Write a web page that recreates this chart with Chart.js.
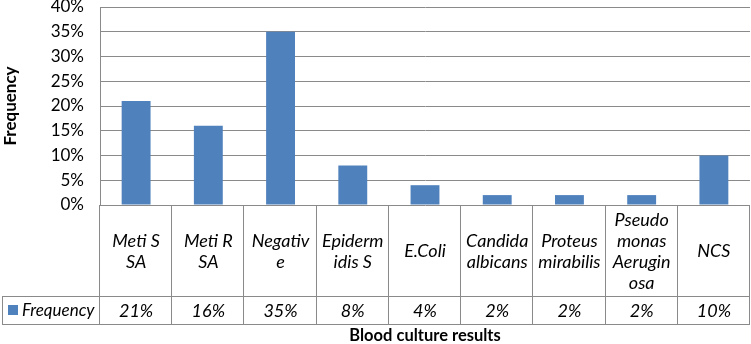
<!DOCTYPE html>
<html lang="en">
<head>
  <meta charset="UTF-8" />
  <title>Blood culture results</title>
  <script src="https://cdn.jsdelivr.net/npm/chart.js"></script>
  <style>
    body { margin: 0; background: #fff; }
    #wrap { width: 751px; height: 344px; position: relative; }
  </style>
</head>
<body>
<div id="wrap"><canvas id="chart"></canvas></div>
<script>
// categories (line breaks as in the data table)
const categories = [
  ['Meti S', 'SA'], ['Meti R', 'SA'], ['Negativ', 'e'], ['Epiderm', 'idis S'],
  ['E.Coli'], ['Candida', 'albicans'], ['Proteus', 'mirabilis'],
  ['Pseudo', 'monas', 'Aerugin', 'osa'], ['NCS']
];
const frequency = [21, 16, 35, 8, 4, 2, 2, 2, 10];
const seriesName = 'Frequency';
const yTicksMax = 40;
const yStep = 5;

const FONT = 'Lato, "Open Sans", sans-serif';
const barColor = '#4F81BD';
const lineColor = '#8a8a8a';

// draws the data table under the plot, Excel style
const dataTable = {
  id: 'dataTable',
  afterDraw(chart) {
    const ctx = chart.ctx;
    const area = chart.chartArea;
    const xs = chart.scales.x;
    const n = categories.length;
    const half = (area.right - area.left) / n / 2;
    const y0 = area.bottom, y1 = 296, y2 = 324;
    const legLeft = 2;

    ctx.save();
    ctx.strokeStyle = lineColor;
    ctx.lineWidth = 1;
    ctx.beginPath();
    // horizontal rules
    ctx.moveTo(legLeft, y1 + 0.5); ctx.lineTo(area.right, y1 + 0.5);
    ctx.moveTo(legLeft, y2 + 0.5); ctx.lineTo(area.right, y2 + 0.5);
    ctx.moveTo(legLeft + 0.5, y1); ctx.lineTo(legLeft + 0.5, y2);
    // vertical rules
    for (let i = 0; i <= n; i++) {
      const x = Math.round(i < n ? xs.getPixelForValue(i) - half : xs.getPixelForValue(n - 1) + half) - 0.5;
      ctx.moveTo(x, y0); ctx.lineTo(x, y2);
    }
    ctx.stroke();

    ctx.fillStyle = '#000';
    ctx.textAlign = 'center';
    ctx.textBaseline = 'middle';
    ctx.font = 'italic 18px ' + FONT;
    const lh = 21;
    categories.forEach((lines, i) => {
      const cx = xs.getPixelForValue(i);
      const cy = (y0 + y1) / 2 + 1;
      const start = cy - (lines.length - 1) * lh / 2;
      lines.forEach((t, k) => ctx.fillText(t, cx, start + k * lh));
      ctx.fillText(frequency[i] + '%', cx, (y1 + y2) / 2 + 1);
    });

    // legend key in the table
    ctx.fillStyle = barColor;
    ctx.fillRect(8, 305, 10, 10);
    ctx.fillStyle = '#000';
    ctx.textAlign = 'left';
    ctx.font = 'italic 17px ' + FONT;
    ctx.fillText(seriesName, 22, (y1 + y2) / 2 + 1);

    // x axis title
    ctx.textAlign = 'center';
    ctx.font = 'bold 16.5px ' + FONT;
    ctx.fillText('Blood culture results', (area.left + area.right) / 2, 336);
    ctx.restore();
  }
};

new Chart(document.getElementById('chart'), {
  type: 'bar',
  data: {
    labels: categories,
    datasets: [{
      label: seriesName,
      data: frequency,
      backgroundColor: barColor,
      barPercentage: 0.4,
      categoryPercentage: 1.0
    }]
  },
  options: {
    responsive: true,
    maintainAspectRatio: false,
    animation: false,
    layout: { padding: { top: 7, right: 1, bottom: 139, left: 0 } },
    plugins: { legend: { display: false }, tooltip: { enabled: false } },
    scales: {
      x: { display: false },
      y: {
        min: 0,
        max: yTicksMax,
        afterFit(scale) {
          scale.width = 100;
          scale.paddingTop = 0;
          scale.paddingBottom = 0;
        },
        ticks: {
          stepSize: yStep,
          padding: 16,
          color: '#000',
          font: { family: FONT, size: 17, lineHeight: 1 },
          callback: v => v + '%'
        },
        grid: { color: lineColor, drawTicks: false },
        border: { display: true, color: lineColor },
        title: {
          display: true,
          text: 'Frequency',
          color: '#000',
          font: { family: FONT, size: 17, weight: 'bold' },
          padding: { top: 0, bottom: 0 }
        }
      }
    }
  },
  plugins: [dataTable]
});
</script>
</body>
</html>
